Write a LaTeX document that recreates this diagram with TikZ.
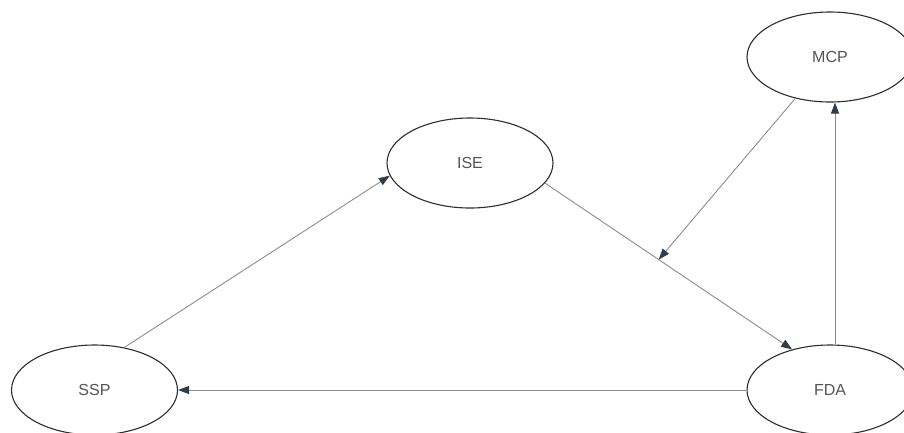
\documentclass[tikz,border=0pt]{standalone}
\usepackage{fontspec}
\setmainfont{Liberation Sans}
\usetikzlibrary{shapes.geometric,arrows.meta,calc}
\definecolor{edgegray}{HTML}{8C8C8C}
\definecolor{tipdark}{HTML}{333B47}
\definecolor{rimdark}{HTML}{2E2E2E}
\definecolor{labelgray}{HTML}{555555}
\tikzset{
  state/.style={ellipse, draw=rimdark, line width=1.1pt, fill=white,
    minimum width=166pt, minimum height=90pt, inner sep=0pt,
    font=\fontsize{16}{18}\selectfont, text=labelgray},
  conn/.style={draw=edgegray, line width=0.9pt,
    -{Triangle[length=11pt,width=8pt,color=tipdark]}}
}
\begin{document}
\begin{tikzpicture}[x=1pt,y=-1pt]
\useasboundingbox (0,0) rectangle (904,432);
\node[state] (MCP) at (830,57) {MCP};
\node[state] (ISE) at (470,163) {ISE};
\node[state] (SSP) at (94.5,390) {SSP};
\node[state] (FDA) at (830,390) {FDA};
\draw[conn] (SSP.55) -- (ISE.189);
\draw[conn] (ISE.-15) -- (FDA.133.6);
\coordinate (J) at ($(ISE.-15)!0.46!(FDA.133.6)$);
\draw[conn] (MCP.230) -- (J);
\draw[conn] (FDA.west) -- (SSP.east);
\draw[conn] ([xshift=5pt]FDA.north) -- ([xshift=5pt]MCP.south);
\end{tikzpicture}
\end{document}
